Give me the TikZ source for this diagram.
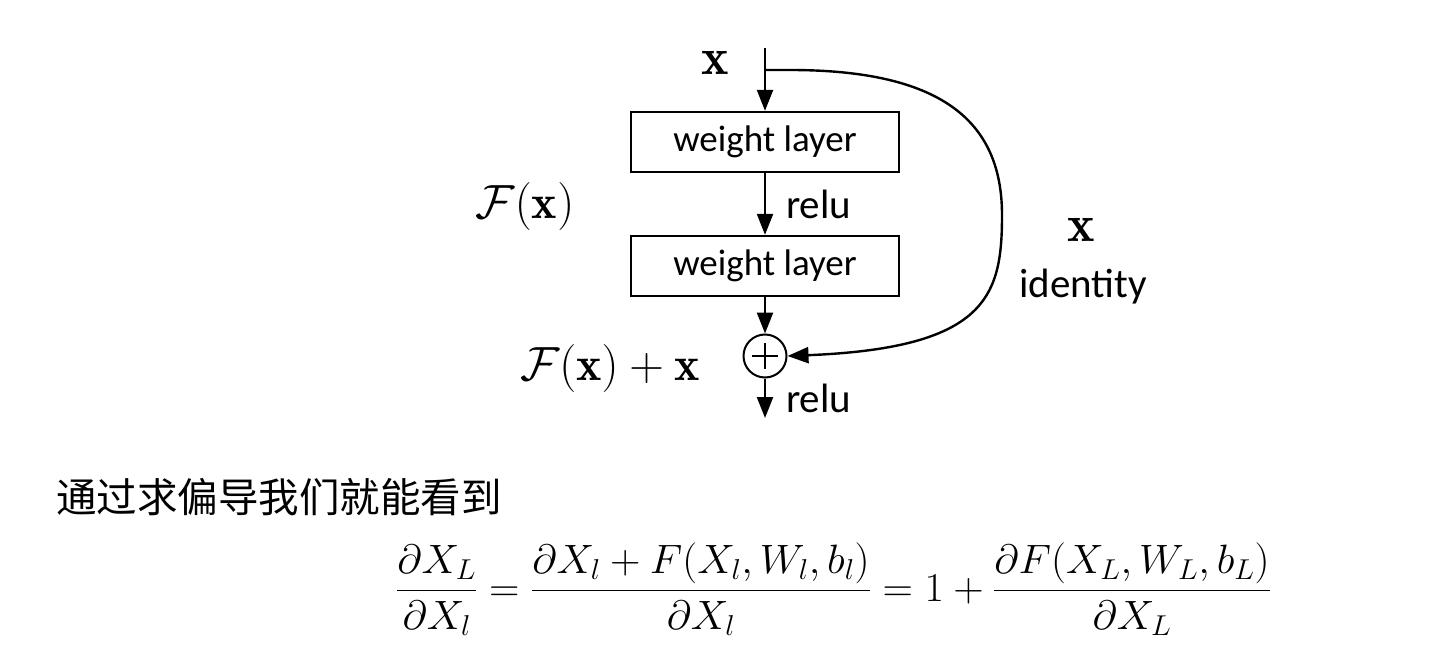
\RequirePackage{fix-cm}
\documentclass[tikz,border=0pt]{standalone}
\usepackage{amsmath}
\usepackage{fontspec}
\setsansfont{Carlito}
\newfontfamily\cjk{Noto Sans CJK SC}
\usetikzlibrary{arrows.meta}
\usetikzlibrary{positioning}

\begin{document}
\begin{tikzpicture}[x=1pt, y=-1pt, line width=2.4pt,
    layer/.style={draw, minimum width=268pt, minimum height=60pt, inner sep=0pt, font=\sffamily\fontsize{37}{40}\selectfont},
    lbl/.style={inner sep=0pt, font=\sffamily\fontsize{41}{44}\selectfont},
    mth/.style={inner sep=0pt, font=\fontsize{48}{54}\selectfont},
    vec/.style={inner sep=0pt, font=\fontsize{52}{56}\selectfont},
    flow/.style={-{Triangle[length=21pt, width=16pt]}}]
              \useasboundingbox (0,0) rectangle (1440,652);

              \coordinate (in) at (765,48);
              \coordinate (split) at (765,70);
              \coordinate (out) at (765,418);
              \node[layer] (wl1) at (765,142) {weight layer};
              \node[layer] (wl2) at (765,266) {weight layer};
              \node[draw, circle, minimum size=43pt, inner sep=0pt, line width=2pt] (add) at (765,356) {};
              \draw[line width=2pt] ([xshift=-13pt]add.center) -- ([xshift=13pt]add.center);
              \draw[line width=2pt] ([yshift=-13pt]add.center) -- ([yshift=13pt]add.center);

              \draw[flow] (in) -- (wl1);
              \draw[flow] (wl1) -- (wl2) node[lbl, midway, right=20pt]{relu};
              \draw[flow] (wl2) -- (add);
              \draw[flow] (add) -- (out) node[lbl, midway, right=20pt]{relu};
              \draw[flow] (split) -- ++(25,0) .. controls (940,70) and (1002,120) .. (1002,215)
                    .. controls (1002,295) and (988,348) .. (add.east);

              \node[vec] (xin) at (715,63) {$\mathbf{x}$};
              \node[mth] (fx) at (525,207) {$\mathcal{F}(\mathbf{x})$};
              \node[mth] (fxx) at (610,369) {$\mathcal{F}(\mathbf{x})+\mathbf{x}$};
              \node[vec] (xid) at (1081,230) {$\mathbf{x}$};
              \node[lbl] (id) at (1083,287) {identity};

              \node[anchor=west, inner sep=0pt, font=\cjk\fontsize{40.5}{44}\selectfont] (txt) at (55,497) {通过求偏导我们就能看到};
              \node[anchor=west, inner sep=0pt, xscale=1.03, font=\fontsize{41}{48}\selectfont] (eq) at (395,589)
                    {$\displaystyle \frac{\partial X_L}{\partial X_l}=\frac{\partial X_l+F(X_l,W_l,b_l)}{\partial X_l}=1+\frac{\partial F(X_L,W_L,b_L)}{\partial X_L}$};
            \end{tikzpicture}
\end{document}
